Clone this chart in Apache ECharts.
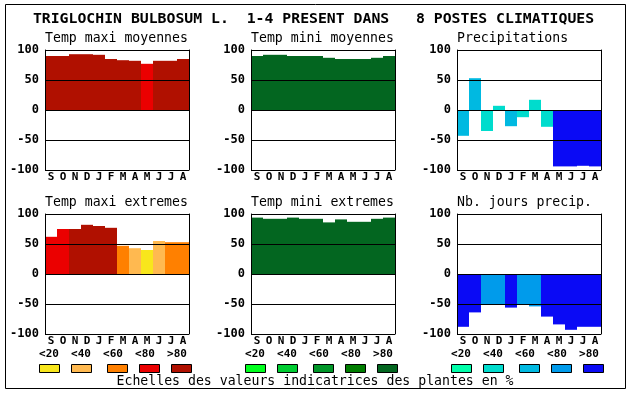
<!DOCTYPE html>
<html>
<head>
<meta charset="utf-8">
<script src="https://cdn.jsdelivr.net/npm/echarts@6/dist/echarts.min.js"></script>
<style>html,body{margin:0;padding:0;background:#fff}#c{width:630px;height:394px}</style>
</head>
<body>
<div id="c"></div>
<script>
// ---- data ----
const months = ['S','O','N','D','J','F','M','A','M','J','J','A'];
const legendLabels = ['<20','<40','<60','<80','>80'];
const mainTitle = 'TRIGLOCHIN BULBOSUM L.  1-4 PRESENT DANS   8 POSTES CLIMATIQUES';
const footText = 'Echelles des valeurs indicatrices des plantes en %';
const panelTitles = ['Temp maxi moyennes','Temp mini moyennes','Precipitations',
                     'Temp maxi extremes','Temp mini extremes','Nb. jours precip.'];

const tmaxMoy    = [90, 90, 93, 93, 92, 85, 83, 82, 77, 82, 82, 85];
const tmaxMoyCls = [4, 4, 4, 4, 4, 4, 4, 4, 3, 4, 4, 4];
const tminMoy    = [90, 92, 92, 90, 90, 90, 87, 85, 85, 85, 87, 90];
const tminMoyCls = [4, 4, 4, 4, 4, 4, 4, 4, 4, 4, 4, 4];
const precip     = [-43, 53, -35, 7, -27, -12, 17, -28, -94, -94, -93, -94];
const precipCls  = [2, 2, 1, 1, 2, 1, 1, 1, 4, 4, 4, 4];
const tmaxExt    = [62, 75, 75, 82, 80, 77, 47, 43, 40, 55, 53, 53];
const tmaxExtCls = [3, 3, 4, 4, 4, 4, 2, 1, 0, 1, 2, 2];
const tminExt    = [94, 92, 92, 94, 92, 92, 86, 91, 87, 87, 92, 94];
const tminExtCls = [4, 4, 4, 4, 4, 4, 4, 4, 4, 4, 4, 4];
const nbJours    = [-88, -64, -51, -51, -56, -51, -54, -71, -84, -93, -88, -88];
const nbJoursCls = [4, 4, 3, 3, 4, 3, 3, 4, 4, 4, 4, 4];

const redScale   = ['#f8e61c', '#ffb950', '#ff8000', '#eb0000', '#b01000'];
const greenScale = ['#00ff1e', '#00cd32', '#009628', '#007d00', '#036620'];
const blueScale  = ['#00ffaa', '#00dccd', '#00b9e1', '#009beb', '#0a0af5'];

// ---- layout ----
const FONT = '"DejaVu Sans Mono", monospace';
const colLeft = [45, 251, 457];
const rowTop = [50, 214];
const PW = 144, PH = 120;
const scales = [redScale, greenScale, blueScale];
const panelData = [
  [tmaxMoy, tmaxMoyCls], [tminMoy, tminMoyCls], [precip, precipCls],
  [tmaxExt, tmaxExtCls], [tminExt, tminExtCls], [nbJours, nbJoursCls]
];

const grid = [], xAxis = [], yAxis = [], series = [], graphic = [];

graphic.push({type:'rect', shape:{x:5.5, y:4.5, width:620, height:384},
  style:{fill:'none', stroke:'#000', lineWidth:1}, silent:true});
graphic.push({type:'text', x:313.5, y:19, silent:true,
  style:{text:mainTitle, font:'bold 14.8px ' + FONT, fill:'#000', align:'center', verticalAlign:'middle'}});
graphic.push({type:'text', x:315, y:382, silent:true,
  style:{text:footText, font:'13.2px ' + FONT, fill:'#000', align:'center', verticalAlign:'middle'}});

for (let p = 0; p < 6; p++) {
  const col = p % 3, row = Math.floor(p / 3);
  const left = colLeft[col], top = rowTop[row];
  const scale = scales[col];
  const [vals, cls] = panelData[p];
  grid.push({left:left, top:top, width:PW, height:PH, show:false});
  xAxis.push({type:'category', gridIndex:p, data:months,
    axisLine:{show:false}, axisTick:{show:false}, splitLine:{show:false},
    axisLabel:{interval:0, margin:2, color:'#000', fontFamily:FONT, fontWeight:'bold', fontSize:11}});
  yAxis.push({type:'value', gridIndex:p, min:-100, max:100, interval:50, z:10,
    axisLine:{show:true, lineStyle:{color:'#000', width:1}}, axisTick:{show:false},
    splitLine:{show:true, lineStyle:{color:'#000', width:1}},
    axisLabel:{margin:6, color:'#000', fontFamily:FONT, fontWeight:'bold', fontSize:12}});
  yAxis.push({type:'value', gridIndex:p, min:-100, max:100, interval:50, z:10, position:'right',
    axisLine:{show:true, lineStyle:{color:'#000', width:1}}, axisTick:{show:false},
    splitLine:{show:false}, axisLabel:{show:false}});
  series.push({type:'bar', xAxisIndex:p, yAxisIndex:2*p, barCategoryGap:'0%', z:2,
    silent:true, animation:false,
    data: vals.map((v, j) => ({value:v, itemStyle:{color:scale[cls[j]]}}))});
  graphic.push({type:'text', x:left, y:top - 11, silent:true,
    style:{text:panelTitles[p], font:'13.2px ' + FONT, fill:'#000', align:'left', verticalAlign:'middle'}});
}

// legends under bottom row
const labOff = [4, 36, 68, 100, 132];
const boxOff = [4, 36, 72, 104, 136];
for (let c = 0; c < 3; c++) {
  const L = colLeft[c];
  for (let k = 0; k < 5; k++) {
    graphic.push({type:'text', x:L + labOff[k], y:354, silent:true,
      style:{text:legendLabels[k], font:'bold 11px ' + FONT, fill:'#000', align:'center', verticalAlign:'middle'}});
    graphic.push({type:'rect', silent:true,
      shape:{x:Math.round(L + boxOff[k] - 10) + 0.5, y:364.5, width:20, height:8},
      style:{fill:scales[c][k], stroke:'#000', lineWidth:1}});
  }
}

const chart = echarts.init(document.getElementById('c'), null, {renderer:'canvas'});
chart.setOption({animation:false, backgroundColor:'#fff', grid, xAxis, yAxis, series, graphic});
</script>
</body>
</html>
